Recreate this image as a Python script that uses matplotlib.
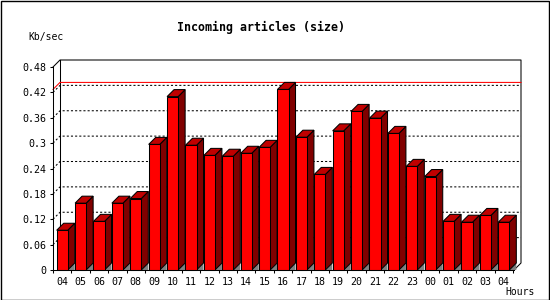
import numpy as np
import matplotlib.pyplot as plt
from matplotlib.patches import Polygon, Rectangle

plt.rcParams['lines.scale_dashes'] = False

hours = ['04', '05', '06', '07', '08', '09', '10', '11', '12', '13', '14', '15', '16',
         '17', '18', '19', '20', '21', '22', '23', '00', '01', '02', '03', '04']
kbsec = [0.094, 0.158, 0.115, 0.158, 0.169, 0.297, 0.410, 0.295, 0.271, 0.269, 0.276,
         0.290, 0.427, 0.314, 0.226, 0.329, 0.375, 0.359, 0.323, 0.245, 0.221, 0.115,
         0.113, 0.129, 0.113]
yticks = [0, 0.06, 0.12, 0.18, 0.24, 0.3, 0.36, 0.42, 0.48]
ytick_labels = ['0', '0.06', '0.12', '0.18', '0.24', '0.3', '0.36', '0.42', '0.48']

W, H = 550, 300
fig = plt.figure(figsize=(5.5, 3), dpi=100)
# front plane of the 3d box, in pixels
x0, x1, yb, yt = 53, 514, 270, 67
ax = fig.add_axes([x0 / W, 1 - yb / H, (x1 - x0) / W, (yb - yt) / H])
ax.set_facecolor('none')
for s in ax.spines.values():
    s.set_visible(False)

xmin = -0.5
xmax = xmin + (x1 - x0) / 18.4
ymax = 0.48
ax.set_xlim(xmin, xmax)
ax.set_ylim(0, ymax)

# depth of the 3d effect, 7 px
depth = 7
dx = depth * (xmax - xmin) / (x1 - x0)
dy = depth * ymax / (yb - yt)

mono = 'DejaVu Sans Mono'
lw = 0.75

# back wall frame
ax.plot([xmin, xmin + dx, xmax + dx, xmax + dx, xmax],
        [ymax, ymax + dy, ymax + dy, dy, 0], color='black', lw=lw, clip_on=False, zorder=1)
ax.plot([xmin + dx, xmin + dx], [dy, ymax + dy], color='black', lw=lw, clip_on=False, zorder=1)

# grid lines on the back wall and left wall
for v in yticks[1:-1]:
    ax.plot([xmin, xmin + dx, xmax + dx], [v, v + dy, v + dy], color='black', lw=lw,
            linestyle=(0, (1.5, 1.5)), clip_on=False, zorder=1)

# max line
m = max(kbsec)
ax.plot([xmin, xmin + dx, xmax + dx], [m, m + dy, m + dy], color='red', lw=lw,
        clip_on=False, zorder=1.5)

# front axes
ax.plot([xmin, xmin, xmax], [ymax, 0, 0], color='black', lw=lw, clip_on=False, zorder=5)

# bars
x = np.arange(len(kbsec))
w = 0.6
for xi, v in zip(x, kbsec):
    xl, xr = xi - w / 2, xi + w / 2
    ax.add_patch(Polygon([(xr, 0), (xr + dx, dy), (xr + dx, 0)], closed=True,
                         facecolor='#808080', edgecolor='none', zorder=2, clip_on=False))
    ax.add_patch(Polygon([(xr, 0), (xr + dx, dy), (xr + dx, v + dy), (xr, v)], closed=True,
                         facecolor='#800000', edgecolor='black', lw=lw, zorder=2, clip_on=False))
    ax.add_patch(Polygon([(xl, v), (xl + dx, v + dy), (xr + dx, v + dy), (xr, v)], closed=True,
                         facecolor='#c00000', edgecolor='black', lw=lw, zorder=2, clip_on=False))
ax.bar(x, kbsec, width=w, color='#ff0000', edgecolor='black', lw=lw, zorder=3, clip_on=False)

# ticks
ax.set_yticks(yticks)
ax.set_yticklabels(ytick_labels, family=mono, fontsize=7.2)
ax.tick_params(axis='y', length=2.2, width=lw, pad=2.5)
ax.set_xticks(x)
ax.set_xticklabels(hours, family=mono, fontsize=7.2)
ax.set_xticks(np.arange(len(kbsec) + 1) + xmin, minor=True)
ax.tick_params(axis='x', which='major', length=0, pad=5)
ax.tick_params(axis='x', which='minor', length=2.2, width=lw)

fig.text(261 / W, 1 - 27 / H, 'Incoming articles (size)', family=mono, weight='bold',
         fontsize=8.4, ha='center', va='center')
fig.text(28 / W, 1 - 37 / H, 'Kb/sec', family=mono, fontsize=7, ha='left', va='center')
fig.text(505 / W, 1 - 292 / H, 'Hours', family=mono, fontsize=7, ha='left', va='center')

# outer border
fig.patches.append(Rectangle((0.5 / W, 0.5 / H), 1 - 1.5 / W, 1 - 1.5 / H, fill=False,
                             edgecolor='black', lw=1, transform=fig.transFigure))

fig.savefig('out.png', dpi=100)
